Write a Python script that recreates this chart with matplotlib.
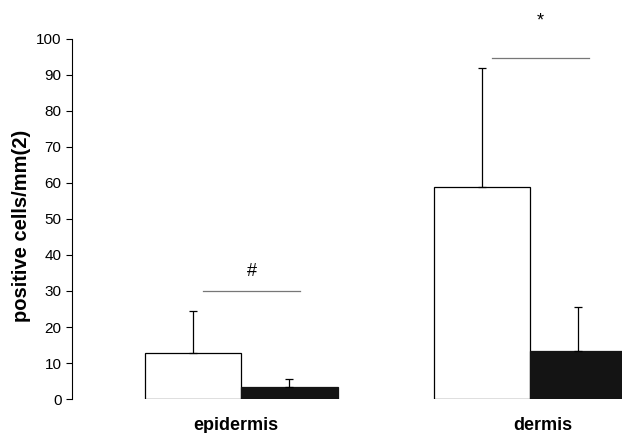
import numpy as np
import matplotlib.pyplot as plt

plt.rcParams['font.family'] = ['Liberation Sans', 'DejaVu Sans']

categories = ['epidermis', 'dermis']
open_vals = [12.8, 58.9]
open_err = [11.6, 33.1]
filled_vals = [3.4, 13.4]
filled_err = [2.2, 12.2]
marks = ['#', '*']
line_heights = [30, 94.7]
mark_heights = [35.3, 105.0]

x = np.arange(len(categories))
w = 0.334

fig = plt.figure(figsize=(6.22, 4.33), dpi=100)
ax = fig.add_axes([0.1158, 0.0785, 0.8842, 0.8315])

ax.bar(x - w / 2, open_vals, w, color='white', edgecolor='black', linewidth=0.9)
ax.bar(x + w / 2, filled_vals, w, color='#141414', edgecolor='#141414', linewidth=0.9)
ax.errorbar(x - w / 2, open_vals, yerr=[np.zeros(2), open_err], fmt='none',
            ecolor='black', elinewidth=0.9, capsize=3, capthick=0.9)
ax.errorbar(x + w / 2, filled_vals, yerr=[np.zeros(2), filled_err], fmt='none',
            ecolor='black', elinewidth=0.9, capsize=3, capthick=0.9)

# significance lines and marks
for i in range(len(categories)):
    ax.plot([x[i] - 0.131, x[i] + 0.204], [line_heights[i]] * 2, color='#777777', lw=0.9)
    ax.text(x[i] + 0.036, mark_heights[i], marks[i], ha='center', va='center',
            fontsize=13, clip_on=False)

ax.set_xlim(-0.585, 1.318)
ax.set_ylim(0, 100)
ax.set_yticks(np.arange(0, 101, 10))
ax.set_xticks([-0.018, 1.045])
ax.set_xticklabels(categories, fontsize=13, fontweight='bold')
ax.tick_params(axis='x', length=0, pad=13)
ax.tick_params(axis='y', labelsize=11, length=4, width=0.8)
ax.set_ylabel('positive cells/mm(2)', fontsize=14.5, fontweight='bold')
ax.yaxis.set_label_coords(-0.074, 0.48)

for s in ['top', 'right', 'bottom']:
    ax.spines[s].set_visible(False)
ax.spines['left'].set_linewidth(0.8)

plt.savefig('out.png', dpi=100)
